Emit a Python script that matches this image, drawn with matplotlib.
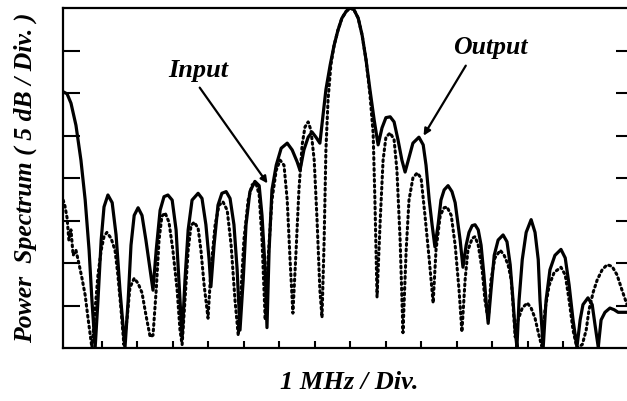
import matplotlib
matplotlib.use('Agg')
import matplotlib.pyplot as plt

# frequency offset (MHz, 1 div = 1 MHz) and power (dB, 5 dB / div)
out_f = [-8.06, -7.97, -7.86, -7.72, -7.58, -7.46, -7.35, -7.27, -7.18,
         -7.10, -7.01, -6.93, -6.82, -6.70, -6.59, -6.48, -6.34,
         -6.25, -6.17, -6.08, -5.97, -5.86, -5.75, -5.63, -5.55,
         -5.46, -5.35, -5.24, -5.13, -5.01, -4.90, -4.82, -4.73,
         -4.65, -4.56, -4.45, -4.28, -4.17, -4.06, -3.97, -3.92,
         -3.83, -3.72, -3.61, -3.49, -3.38, -3.27, -3.18, -3.10,
         -3.01, -2.93, -2.82, -2.68, -2.56, -2.48, -2.39, -2.34,
         -2.28, -2.20, -2.08, -1.94, -1.77, -1.63, -1.49, -1.41,
         -1.30, -1.18, -1.07, -0.96, -0.85,
         -0.76, -0.68, -0.56, -0.45, -0.34, -0.23, -0.11, 0.0, 0.11, 0.23, 0.34, 0.45, 0.56, 0.68, 0.79,
         0.90, 1.01, 1.13, 1.24, 1.35, 1.46, 1.55,
         1.66, 1.77, 1.94, 2.06, 2.14, 2.23, 2.31, 2.39,
         2.48, 2.56, 2.65, 2.76, 2.87, 2.96, 3.10, 3.18,
         3.27, 3.35, 3.44, 3.52, 3.61, 3.69, 3.77, 3.83, 3.89,
         3.97, 4.06, 4.17, 4.31, 4.42, 4.51, 4.59, 4.65, 4.70,
         4.76, 4.85, 4.96, 5.10, 5.21, 5.30, 5.35, 5.44,
         5.52, 5.63, 5.77, 5.94, 6.06, 6.17, 6.28, 6.39,
         6.48, 6.56, 6.70, 6.82, 6.90, 6.99,
         7.07, 7.18, 7.32, 7.44, 7.55, 7.80]
out_db = [-9.9, -10.1, -11.2, -13.8, -17.9, -22.6, -28.5, -34.4, -40.0,
          -34.4, -27.3, -23.4, -22.0, -22.9, -26.7, -33.2, -40.0,
          -34.4, -27.9, -24.4, -23.5, -24.4, -27.3, -30.8, -33.2,
          -28.5, -23.8, -22.2, -22.0, -22.6, -26.1, -32.0, -38.8,
          -32.0, -26.1, -22.6, -21.8, -22.4, -25.5, -29.6, -32.8,
          -27.9, -23.2, -21.8, -21.6, -22.4, -25.5, -30.8, -37.9,
          -32.0, -25.5, -21.6, -20.4, -20.9, -24.4, -30.8, -37.6,
          -28.5, -21.4, -18.5, -16.5, -15.9, -16.7, -18.1, -19.1,
          -16.7, -15.2, -14.6, -15.2, -15.9,
          -12.6, -9.6, -6.7, -4.4, -2.6, -1.2, -0.4, 0.0, -0.2, -1.2, -3.2, -6.1, -9.6, -13.2, -16.1,
          -14.1, -12.9, -12.8, -13.4, -15.5, -17.9, -19.3,
          -17.6, -15.9, -15.2, -16.1, -18.5, -22.6, -25.5, -28.1,
          -25.5, -22.6, -21.4, -20.9, -21.6, -22.9, -27.3, -30.5,
          -27.9, -26.4, -25.6, -25.5, -26.1, -27.9, -31.4, -34.4, -37.1,
          -33.2, -29.1, -27.3, -26.7, -27.5, -30.2, -34.4, -37.9, -39.9,
          -34.4, -29.6, -26.4, -24.9, -26.4, -29.6, -34.4, -39.9,
          -34.4, -30.8, -29.1, -28.4, -29.4, -32.6, -36.7, -39.9,
          -36.7, -34.9, -34.1, -34.9, -37.3, -39.9,
          -36.7, -35.8, -35.3, -35.5, -35.8, -35.8]

in_f = [-8.08, -8.03, -7.97, -7.92, -7.86, -7.80, -7.72, -7.63, -7.55, -7.46, -7.38, -7.27,
        -7.18, -7.10, -7.01, -6.93, -6.85, -6.73, -6.62, -6.54, -6.45, -6.37,
        -6.28, -6.20, -6.08, -5.97, -5.86, -5.75, -5.63, -5.55,
        -5.46, -5.38, -5.30, -5.21, -5.10, -4.99, -4.87, -4.79, -4.73,
        -4.65, -4.56, -4.48, -4.39, -4.28, -4.20, -4.11, -4.00,
        -3.92, -3.80, -3.69, -3.58, -3.46, -3.35, -3.24, -3.15,
        -3.07, -2.99, -2.87, -2.76, -2.65, -2.56, -2.48, -2.39,
        -2.31, -2.20, -2.08, -1.97, -1.86, -1.77, -1.69, -1.61,
        -1.52, -1.44, -1.35, -1.27, -1.18, -1.10, -1.01, -0.93, -0.85, -0.79,
        -0.73, -0.68, -0.62, -0.54, -0.45, -0.34, -0.23, -0.11, 0.0, 0.11, 0.23, 0.34, 0.45, 0.56, 0.65, 0.70, 0.76,
        0.85, 0.93, 1.01, 1.13, 1.24, 1.32, 1.41, 1.49,
        1.58, 1.66, 1.77, 1.89, 2.00, 2.11, 2.23, 2.34,
        2.42, 2.54, 2.65, 2.73, 2.85, 2.96, 3.07, 3.15,
        3.24, 3.32, 3.44, 3.52, 3.61, 3.72, 3.80, 3.89,
        3.97, 4.08, 4.23, 4.34, 4.45, 4.54, 4.59, 4.65,
        4.73, 4.85, 4.99, 5.10, 5.21, 5.32, 5.41,
        5.49, 5.61, 5.75, 5.94, 6.06, 6.17, 6.28, 6.39,
        6.54, 6.65, 6.73, 6.85, 6.96, 7.10, 7.24, 7.38, 7.52, 7.66, 7.80]
in_db = [-22.6, -23.3, -24.7, -27.3, -26.1, -29.1, -28.5, -30.2, -31.8, -33.8, -36.5, -40.0,
         -35.5, -31.4, -28.5, -26.9, -26.4, -27.1, -28.5, -31.4, -35.5, -39.6,
         -36.5, -32.9, -31.8, -32.4, -33.5, -36.1, -38.7, -38.5,
         -33.2, -27.3, -24.5, -24.1, -25.2, -28.5, -33.2, -37.9, -39.6,
         -34.4, -28.5, -25.6, -25.2, -25.9, -28.5, -32.6, -36.5,
         -30.8, -25.5, -23.2, -22.8, -23.8, -27.9, -34.4, -38.5,
         -33.2, -27.3, -22.6, -20.8, -20.6, -22.0, -27.3, -36.7,
         -29.6, -22.6, -19.1, -17.9, -18.5, -22.6, -29.6, -35.9,
         -28.5, -21.4, -16.1, -14.0, -13.4, -14.4, -17.9, -24.9, -33.2, -36.4,
         -27.3, -16.7, -10.8, -6.7, -4.4, -2.6, -1.2, -0.4, 0.0, -0.2, -1.2, -3.2, -6.1, -10.2, -14.7, -22.6, -34.0,
         -24.9, -17.9, -15.2, -14.7, -15.5, -19.1, -27.3, -38.2,
         -28.5, -22.6, -20.0, -19.4, -20.0, -24.4, -29.6, -34.7,
         -28.5, -24.4, -23.5, -23.4, -24.4, -27.9, -33.2, -38.1,
         -32.0, -28.5, -27.1, -26.9, -27.9, -30.8, -34.4, -36.7,
         -32.0, -29.4, -28.5, -29.1, -30.2, -32.0, -34.9, -38.7,
         -36.7, -35.3, -34.7, -35.3, -36.5, -38.5, -40.0,
         -35.5, -32.6, -31.1, -30.5, -31.4, -34.4, -37.9, -40.0,
         -39.6, -37.9, -35.5, -33.4, -32.0, -30.8, -30.2, -30.4, -31.4, -33.2, -34.9]

xticks = [-7, -6, -5, -4, -3, -2, -1, 0, 1, 2, 3, 4, 5, 6, 7]
yticks = [-35, -30, -25, -20, -15, -10, -5]

serif = 'Liberation Serif'
lbl = dict(fontfamily=serif, fontweight='bold', fontstyle='italic')

fig = plt.figure(figsize=(6.27, 4.01), dpi=100)
ax = fig.add_axes([63/627, 53/401, 564/627, 340/401])

ax.plot(in_f, in_db, color='black', lw=2.2, linestyle=(0, (0.6, 1.2)), dash_capstyle='round')
ax.plot(out_f, out_db, color='black', lw=2.3, solid_joinstyle='round')

ax.set_xlim(-8.085, 7.8)
ax.set_ylim(-40, 0)

for s in ['left', 'bottom', 'top']:
    ax.spines[s].set_linewidth(1.6)
ax.spines['right'].set_visible(False)

ax.set_xticks(xticks)
ax.set_yticks(yticks)
ax.tick_params(axis='x', direction='in', length=5, width=1.5, labelbottom=False)
ax.tick_params(axis='y', direction='in', length=12, width=1.5, left=True, right=True,
               labelleft=False)
for t in ax.yaxis.get_major_ticks():
    t.tick2line.set_markersize(8)

ax.set_ylabel('Power  Spectrum ( 5 dB / Div. )', fontsize=18.5, **lbl)
ax.yaxis.set_label_coords(-0.046, 0.5)
ax.set_xlabel('1 MHz / Div.', fontsize=19, va='top', **lbl)
ax.xaxis.set_label_coords(0.507, -0.068)

ax.text(-4.28, -7.3, 'Input', fontsize=19, ha='center', va='center', **lbl)
ax.text(3.94, -4.7, 'Output', fontsize=18.5, ha='center', va='center', **lbl)

ax.annotate('', xy=(-2.28, -20.9), xytext=(-4.28, -9.1),
            arrowprops=dict(arrowstyle='-|>', color='black', lw=1.6, mutation_scale=10))
ax.annotate('', xy=(2.03, -15.3), xytext=(3.30, -6.5),
            arrowprops=dict(arrowstyle='-|>', color='black', lw=1.6, mutation_scale=10))

fig.savefig('out.png', dpi=100)
